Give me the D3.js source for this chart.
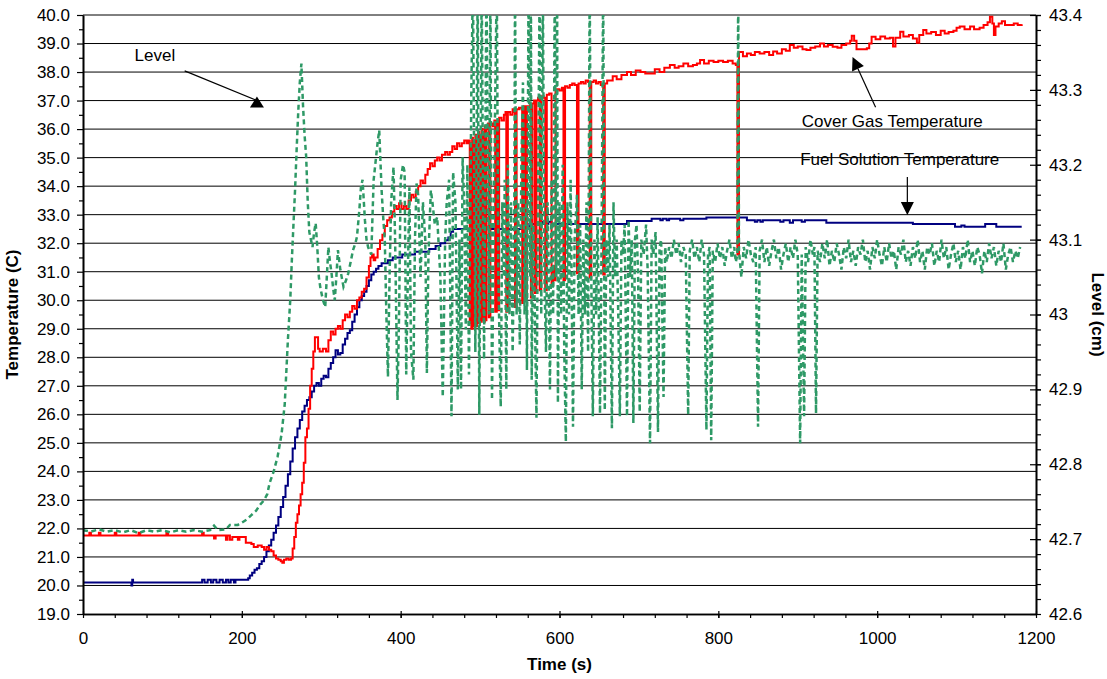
<!DOCTYPE html>
<html>
<head>
<meta charset="utf-8">
<script src="https://d3js.org/d3.v7.min.js"></script>
<style>
  html, body { margin: 0; padding: 0; background: #fff; }
  svg text { font-family: "Liberation Sans", Arial, sans-serif; fill: #000; }
</style>
</head>
<body>
<svg id="chart" width="1107" height="679"></svg>
<script>
'use strict';

// [time (s), temperature (C)]
var fuelSolutionTemp = [
  [0,20.1],[61,20.0],[62,20.2],[63,20.1],[150,20.2],[153,20.1],[157,20.2],[161,20.1],[164,20.2],[168,20.1],
  [172,20.2],[176,20.1],[180,20.2],[183,20.1],[186,20.2],[190,20.1],[192,20.2],[208,20.25],[210,20.35],[213,20.45],
  [216,20.55],[219,20.6],[222,20.75],[225,20.85],[228,21.0],[231,21.2],[234,21.4],[237,21.6],[240,21.85],[243,22.1],
  [246,22.4],[249,22.75],[252,23.1],[255,23.5],[258,23.9],[261,24.35],[264,24.8],[267,25.2],[270,25.5],[273,25.8],
  [276,26.1],[279,26.3],[282,26.5],[285,26.6],[288,26.8],[291,27.0],[294,27.1],[297,27.0],[300,27.25],[303,27.35],
  [306,27.3],[309,27.6],[312,27.8],[315,28.0],[318,28.25],[321,28.1],[324,28.15],[327,28.45],[330,28.65],[333,28.85],
  [336,28.95],[339,29.25],[342,29.5],[345,29.75],[348,30.0],[351,30.15],[354,30.3],[357,30.5],[360,30.7],[363,30.9],
  [366,31.0],[369,31.1],[372,31.2],[376,31.3],[384,31.4],[390,31.5],[402,31.6],[418,31.7],[436,31.8],[444,31.9],
  [450,32.0],[456,32.1],[460,32.2],[463,32.4],[466,32.5],[562,32.67],[575,32.75],[578,32.67],[586,32.75],[590,32.67],
  [685,32.78],[716,32.86],[727,32.8],[730,32.86],[735,32.8],[738,32.86],[752,32.8],[756,32.86],[785,32.9],[836,32.8],
  [846,32.75],[849,32.8],[853,32.75],[856,32.8],[878,32.75],[882,32.8],[890,32.72],[894,32.8],[905,32.75],[909,32.8],
  [936,32.72],[1045,32.67],[1098,32.58],[1106,32.62],[1110,32.58],[1136,32.67],[1150,32.58],[1182,32.58]
];

var coverGasTemp = [
  [0,21.75],[8,21.85],[10,21.75],[20,21.85],[22,21.75],[40,21.85],[42,21.75],[70,21.85],[72,21.75],[105,21.85],
  [107,21.75],[150,21.85],[152,21.75],[165,21.65],[167,21.75],[180,21.6],[182,21.75],[185,21.6],[188,21.7],[195,21.6],
  [197,21.7],[205,21.5],[212,21.45],[215,21.35],[220,21.4],[225,21.35],[228,21.25],[231,21.35],[234,21.25],[237,21.2],
  [240,21.05],[243,20.95],[246,20.9],[249,20.85],[251,20.8],[253,20.9],[256,20.95],[259,20.9],[262,20.95],[264,21.3],
  [266,21.7],[268,22.2],[270,22.5],[272,22.8],[274,23.2],[276,23.6],[278,24.3],[280,25.2],[282,25.5],[284,26.2],
  [286,27.0],[288,27.6],[290,28.2],[292,28.7],[294,28.7],[296,28.3],[298,28.2],[302,28.3],[306,28.2],[309,28.6],
  [312,28.9],[315,28.8],[318,29.0],[321,29.1],[324,29.0],[327,29.3],[330,29.5],[333,29.4],[336,29.6],[339,29.8],
  [342,29.7],[345,30.0],[348,30.1],[351,30.3],[354,30.4],[357,30.8],[360,31.2],[362,31.5],[364,31.6],[366,31.4],
  [368,31.5],[371,31.8],[374,32.1],[377,32.3],[380,32.6],[383,32.8],[386,32.9],[389,33.1],[392,33.3],[395,33.2],
  [398,33.4],[401,33.2],[404,33.3],[407,33.2],[410,33.5],[413,33.7],[416,33.6],[419,33.8],[422,34.0],[425,34.2],
  [428,34.1],[431,34.4],[434,34.6],[437,34.8],[440,34.7],[443,34.9],[446,35.0],[449,34.9],[452,35.1],[456,35.2],
  [459,35.1],[462,35.2],[465,35.4],[468,35.3],[471,35.5],[474,35.4],[477,35.5],[480,35.6],[483,35.5],[485,35.6],
  [487,29.2],[488,35.5],[489,29.0],[490,35.7],[491,29.1],[492,35.6],[493,29.0],[494,35.8],[495,29.1],[496,35.7],
  [497,29.2],[498,35.9],[499,29.3],[500,35.8],[501,29.25],[502,36.0],[503,29.3],[504,35.9],[505,29.25],[506,36.1],
  [507,29.3],[508,36.0],[510,36.2],[511,29.4],[513,36.2],[516,36.1],[518,36.3],[519,29.6],[521,36.3],[522,29.65],
  [524,36.4],[527,36.3],[530,36.5],[532,36.6],[533,29.6],[535,36.6],[538,36.5],[541,36.7],[543,36.6],[544,29.76],
  [546,36.7],[549,36.75],[552,36.7],[553,29.9],[555,36.8],[557,30.0],[558,30.07],[559,36.8],[561,36.75],[563,36.85],
  [564,30.1],[566,36.9],[568,37.0],[569,30.25],[571,37.0],[573,37.1],[575,30.35],[577,37.15],[580,37.1],[582,30.35],
  [584,37.2],[587,37.25],[590,30.53],[592,31.2],[593,30.7],[595,37.35],[597,37.4],[600,37.35],[603,37.45],[605,30.7],
  [607,37.5],[610,37.45],[613,37.55],[616,37.6],[619,37.55],[622,30.95],[624,37.6],[627,37.65],[630,37.6],[633,37.7],
  [636,37.65],[638,30.8],[640,37.65],[643,37.7],[646,37.6],[649,37.65],[652,37.55],[655,30.9],[657,37.6],[660,37.7],
  [667,37.85],[672,37.75],[678,37.9],[685,38.0],[690,37.9],[696,38.05],[702,38.0],[708,37.95],[714,37.95],[720,38.1],
  [726,38.0],[732,38.15],[739,38.25],[745,38.15],[750,38.2],[756,38.3],[762,38.2],[768,38.25],[773,38.3],[777,38.42],
  [782,38.3],[788,38.4],[794,38.35],[800,38.4],[806,38.35],[812,38.4],[818,38.3],[822,38.25],[824,31.6],[826,38.7],
  [831,38.55],[836,38.65],[841,38.6],[846,38.7],[852,38.65],[858,38.7],[864,38.6],[869,38.72],[874,38.65],[880,38.8],
  [885,38.75],[890,38.95],[895,38.85],[900,38.9],[906,38.8],[911,38.77],[916,38.85],[922,38.9],[928,39.0],[933,38.9],
  [938,38.95],[944,38.89],[950,38.85],[955,38.95],[961,39.0],[966,39.1],[968,39.27],[971,39.1],[974,38.8],[980,38.8],
  [987,38.83],[990,39.0],[993,39.24],[998,39.15],[1004,39.25],[1010,39.18],[1016,39.2],[1020,38.9],[1023,39.2],[1029,39.41],
  [1033,39.25],[1040,39.3],[1045,39.18],[1050,39.03],[1053,39.3],[1058,39.47],[1062,39.35],[1068,39.4],[1074,39.3],[1080,39.45],
  [1085,39.35],[1090,39.4],[1096,39.45],[1100,39.55],[1104,39.6],[1110,39.5],[1117,39.6],[1122,39.5],[1129,39.55],[1134,39.65],
  [1139,39.75],[1142,39.94],[1145,39.7],[1147,39.3],[1149,39.6],[1153,39.7],[1157,39.78],[1161,39.65],[1167,39.65],[1172,39.7],
  [1177,39.65],[1182,39.68]
];

// [time (s), level (cm)]
var levelCm = [
  [0,42.712],[10,42.71],[20,42.713],[30,42.71],[40,42.712],[50,42.709],[60,42.712],[70,42.708],[80,42.712],[90,42.71],
  [100,42.712],[110,42.709],[120,42.712],[130,42.71],[140,42.712],[150,42.71],[160,42.712],[165,42.718],[170,42.712],[180,42.713],
  [185,42.719],[195,42.719],[200,42.722],[206,42.726],[212,42.732],[218,42.738],[223,42.746],[228,42.752],[232,42.76],[235,42.775],
  [240,42.79],[245,42.81],[250,42.84],[254,42.88],[258,42.966],[261,43.02],[263,43.073],[265,43.12],[267,43.166],[269,43.22],
  [271,43.27],[273,43.31],[275,43.335],[277,43.28],[279,43.24],[281,43.211],[283,43.15],[285,43.11],[287,43.1],[289,43.09],
  [291,43.11],[293,43.122],[295,43.09],[297,43.05],[299,43.035],[302,43.02],[305,43.01],[307,43.05],[309,43.09],[311,43.07],
  [313,43.055],[315,43.035],[317,43.019],[319,43.05],[321,43.086],[324,43.06],[328,43.037],[331,43.045],[334,43.055],[337,43.07],
  [340,43.086],[343,43.095],[345,43.104],[348,43.14],[350,43.17],[352,43.18],[355,43.126],[357,43.1],[359,43.09],[363,43.08],
  [366,43.18],[369,43.21],[371,43.23],[373,43.246],[376,43.166],[378,43.13],[380,43.1],[382,43.0],[384,42.917],[386,43.05],
  [388,43.15],[391,43.197],[393,43.1],[396,42.886],[398,43.0],[400,43.18],[403,43.2],[405,43.19],[407,42.92],[409,43.05],
  [411,43.17],[413,42.95],[416,42.913],[418,43.1],[420,43.175],[422,43.16],[425,43.05],[428,43.15],[431,43.1],[433,42.922],
  [435,43.08],[438,43.166],[440,43.15],[443,43.12],[446,43.13],[450,43.05],[453,42.89],[456,43.1],[458,43.15],[461,43.18],
  [464,42.864],[466,43.19],[469,43.15],[472,42.9],[474,43.1],[476,42.9],[478,43.21],[480,43.15],[482,42.98],[484,43.2],
  [486,42.92],[489,43.3],[491,43.45],[494,42.95],[497,43.45],[499,42.866],[502,43.45],[505,42.94],[508,43.45],[511,43.0],
  [513,43.45],[515,42.886],[518,43.2],[521,43.45],[523,43.05],[526,42.877],[528,43.15],[530,43.05],[531,43.18],[533,42.9],
  [535,43.2],[537,43.0],[539,43.15],[541,42.95],[543,43.1],[544,43.45],[546,43.0],[548,43.15],[550,42.96],[552,43.2],
  [554,43.31],[556,43.0],[558,43.15],[559,42.926],[561,43.45],[563,43.05],[564,43.45],[565,42.913],[567,43.12],[569,43.0],
  [571,42.862],[573,43.15],[575,43.45],[577,43.0],[579,43.45],[581,43.05],[583,42.95],[585,43.15],[587,43.0],[588,42.9],
  [590,43.18],[592,43.0],[594,43.45],[596,43.05],[597,43.45],[598,42.882],[600,43.15],[602,43.0],[604,43.2],[606,42.95],
  [608,42.83],[610,43.15],[612,43.0],[614,43.18],[617,42.85],[619,43.1],[622,43.16],[624,43.0],[626,43.12],[628,42.9],
  [630,43.1],[632,43.0],[634,43.15],[636,42.95],[638,43.45],[640,43.05],[642,42.864],[644,43.1],[646,43.0],[648,43.13],
  [651,42.868],[653,43.1],[655,43.45],[657,42.872],[659,43.1],[661,43.05],[663,43.12],[666,42.848],[668,43.15],[670,43.05],
  [672,43.1],[674,43.0],[676,42.864],[678,43.1],[680,43.08],[682,43.12],[685,42.864],[687,43.126],[689,43.05],[691,43.1],
  [693,42.855],[695,43.1],[697,43.12],[699,43.05],[701,42.87],[703,43.1],[706,43.08],[709,43.12],[711,43.06],[714,42.828],
  [716,43.1],[718,43.08],[721,43.11],[724,42.843],[726,43.09],[728,43.1],[731,42.89],[733,43.09],[735,43.07],[738,43.09],
  [741,43.075],[744,43.1],[747,43.08],[750,43.095],[753,43.07],[756,43.09],[759,43.08],[762,42.866],[764,43.085],[767,43.1],
  [770,43.075],[773,43.09],[776,43.07],[779,43.1],[782,43.08],[785,42.846],[787,43.08],[789,43.09],[791,42.832],[793,43.085],
  [796,43.07],[799,43.095],[802,43.075],[805,43.09],[808,43.065],[811,43.085],[814,43.1],[817,43.075],[820,43.09],[822,43.07],
  [824,43.08],[825,43.45],[826,43.085],[829,43.05],[832,43.09],[835,43.075],[838,43.1],[841,43.08],[844,43.07],[847,43.09],
  [850,42.85],[852,43.085],[855,43.1],[858,43.07],[861,43.09],[864,43.065],[867,43.085],[870,43.1],[873,43.075],[876,43.09],
  [879,43.06],[882,43.08],[885,43.095],[888,43.07],[891,43.09],[894,43.075],[897,43.1],[900,43.08],[903,42.828],[905,43.08],
  [908,42.864],[910,43.09],[913,43.07],[916,43.1],[919,43.08],[921,43.09],[923,42.868],[925,43.085],[928,43.07],[931,43.095],
  [934,43.075],[937,43.1],[940,43.065],[943,43.085],[946,43.07],[949,43.095],[952,43.08],[955,43.06],[958,43.09],[961,43.075],
  [964,43.1],[967,43.07],[970,43.085],[973,43.065],[976,43.09],[979,43.08],[982,43.1],[985,43.07],[988,43.085],[991,43.06],
  [994,43.09],[997,43.075],[1000,43.1],[1003,43.08],[1006,43.065],[1009,43.09],[1012,43.07],[1015,43.095],[1018,43.075],[1021,43.085],
  [1024,43.06],[1027,43.09],[1030,43.08],[1033,43.1],[1036,43.07],[1039,43.085],[1042,43.065],[1045,43.09],[1048,43.075],[1051,43.1],
  [1054,43.07],[1057,43.085],[1060,43.06],[1063,43.09],[1066,43.08],[1069,43.095],[1072,43.065],[1075,43.085],[1078,43.07],[1081,43.1],
  [1084,43.075],[1087,43.09],[1090,43.06],[1093,43.08],[1096,43.095],[1099,43.07],[1102,43.085],[1105,43.06],[1108,43.09],[1111,43.075],
  [1114,43.1],[1117,43.07],[1120,43.085],[1123,43.065],[1126,43.09],[1129,43.08],[1132,43.055],[1135,43.085],[1138,43.07],[1141,43.095],
  [1144,43.075],[1147,43.09],[1150,43.065],[1153,43.085],[1156,43.07],[1159,43.095],[1162,43.06],[1165,43.08],[1168,43.09],[1171,43.07],
  [1174,43.085],[1177,43.075],[1180,43.09]
];

var timeTicks = [0, 200, 400, 600, 800, 1000, 1200];
var tempTicks = [19, 20, 21, 22, 23, 24, 25, 26, 27, 28, 29, 30, 31, 32, 33, 34, 35, 36, 37, 38, 39, 40];
var levelTicks = [42.6, 42.7, 42.8, 42.9, 43.0, 43.1, 43.2, 43.3, 43.4];
var levelLabels = ["42.6", "42.7", "42.8", "42.9", "43", "43.1", "43.2", "43.3", "43.4"];

// annotation text + arrow, in (time, temperature) units
var notes = [
  {text: "Level", x: 65, y: 38.39, from: [128, 38.04], to: [219, 37.0], head: "up"},
  {text: "Cover Gas Temperature", x: 905, y: 36.08, from: [998, 36.77], to: [969, 38.53], head: "line"},
  {text: "Fuel Solution Temperature", x: 903, y: 34.74, from: [1038, 34.32], to: [1038, 32.99], head: "line"}
];

var margin = {top: 15, right: 71, bottom: 65, left: 83},
    width = 1107 - margin.left - margin.right,
    height = 679 - margin.top - margin.bottom;

var svg = d3.select("#chart");
var g = svg.append("g").attr("transform", "translate(" + margin.left + "," + margin.top + ")");

var x = d3.scaleLinear().domain([0, 1200]).range([0, width]);
var yT = d3.scaleLinear().domain([19, 40]).range([height, 0]);
var yL = d3.scaleLinear().domain([42.6, 43.4]).range([height, 0]);

svg.append("defs").append("clipPath").attr("id", "plot-clip")
  .append("rect").attr("width", width).attr("height", height);

// horizontal grid
g.append("g").selectAll("line")
    .data(tempTicks.slice(1))
  .enter().append("line")
    .attr("x1", 0).attr("x2", width)
    .attr("y1", function(d) { return yT(d); })
    .attr("y2", function(d) { return yT(d); })
    .attr("stroke", "#000")
    .attr("stroke-width", 1);

// series
var series = g.append("g").attr("clip-path", "url(#plot-clip)");

var tempLine = d3.line()
  .curve(d3.curveStepAfter)
  .x(function(d) { return x(d[0]); })
  .y(function(d) { return yT(d[1]); });

var levelLine = d3.line()
  .x(function(d) { return x(d[0]); })
  .y(function(d) { return yL(d[1]); });

series.append("path")
  .attr("d", tempLine(fuelSolutionTemp))
  .attr("fill", "none")
  .attr("stroke", "#000080")
  .attr("stroke-width", 2);

series.append("path")
  .attr("d", tempLine(coverGasTemp))
  .attr("fill", "none")
  .attr("stroke", "#ff0000")
  .attr("stroke-width", 2);

series.append("path")
  .attr("d", levelLine(levelCm))
  .attr("fill", "none")
  .attr("stroke", "#2e9966")
  .attr("stroke-width", 2.5)
  .attr("stroke-dasharray", "5,3.5");

// axes
function styleAxis(sel) {
  sel.select(".domain").attr("stroke", "#000").attr("stroke-width", 1.6);
  sel.selectAll(".tick line").attr("stroke", "#000").attr("stroke-width", 1.2);
  sel.selectAll("text").attr("font-size", 17).attr("font-family", null).attr("fill", "#000");
}

// left minor ticks
g.append("g")
    .call(d3.axisLeft(yT).tickValues(d3.range(19.5, 40, 1)).tickSize(4).tickSizeOuter(0).tickFormat(""))
    .call(styleAxis);
g.append("g")
    .call(d3.axisLeft(yT).tickValues(tempTicks).tickSize(6).tickSizeOuter(0).tickPadding(7)
      .tickFormat(d3.format(".1f")))
    .call(styleAxis);

// right axis
var right = g.append("g").attr("transform", "translate(" + width + ",0)");
right.append("g")
    .call(d3.axisRight(yL).tickValues(d3.range(42.62, 43.4, 0.02)).tickSize(5).tickSizeOuter(0).tickFormat(""))
    .call(styleAxis);
right.append("g")
    .call(d3.axisRight(yL).tickValues(levelTicks).tickSize(5).tickSizeOuter(0).tickPadding(8)
      .tickFormat(function(d, i) { return levelLabels[i]; }))
    .call(styleAxis)
    .selectAll(".tick line").attr("x1", -6);

// bottom axis
var bottom = g.append("g").attr("transform", "translate(0," + height + ")");
bottom.append("g")
    .call(d3.axisBottom(x).tickValues(d3.range(40, 1200, 40)).tickSize(4).tickSizeOuter(0).tickFormat(""))
    .call(styleAxis);
bottom.append("g")
    .call(d3.axisBottom(x).tickValues(timeTicks).tickSize(4).tickSizeOuter(0).tickPadding(14)
      .tickFormat(d3.format("d")))
    .call(styleAxis)
    .selectAll(".tick line").attr("y1", -3);

// axis titles
g.append("text")
  .attr("transform", "translate(" + (-65) + "," + (height / 2) + ") rotate(-90)")
  .attr("text-anchor", "middle")
  .attr("font-size", 17)
  .attr("font-weight", "bold")
  .text("Temperature (C)");

g.append("text")
  .attr("transform", "translate(" + (width + 56) + "," + (height / 2) + ") rotate(90)")
  .attr("text-anchor", "middle")
  .attr("font-size", 17)
  .attr("font-weight", "bold")
  .text("Level (cm)");

g.append("text")
  .attr("x", width / 2)
  .attr("y", height + 56)
  .attr("text-anchor", "middle")
  .attr("font-size", 17)
  .attr("font-weight", "bold")
  .text("Time (s)");

// annotations
notes.forEach(function(n) {
  g.append("text")
    .attr("x", x(n.x)).attr("y", yT(n.y))
    .attr("font-size", 17)
    .text(n.text);

  var x1 = x(n.from[0]), y1 = yT(n.from[1]),
      x2 = x(n.to[0]), y2 = yT(n.to[1]);
  var pts;
  if (n.head == "up") {
    // this head sits upright at the end of the line
    pts = [[x2, y2 - 4], [x2 - 7, y2 + 7], [x2 + 7, y2 + 7]];
    g.append("line").attr("x1", x1).attr("y1", y1).attr("x2", x2).attr("y2", y2)
      .attr("stroke", "#000").attr("stroke-width", 1.2);
  } else {
    var dx = x2 - x1, dy = y2 - y1, len = Math.sqrt(dx * dx + dy * dy),
        ux = dx / len, uy = dy / len,
        bx = x2 - ux * 13, by = y2 - uy * 13;
    pts = [[x2, y2], [bx - uy * 6.5, by + ux * 6.5], [bx + uy * 6.5, by - ux * 6.5]];
    g.append("line").attr("x1", x1).attr("y1", y1).attr("x2", bx).attr("y2", by)
      .attr("stroke", "#000").attr("stroke-width", 1.2);
  }
  g.append("polygon")
    .attr("points", pts.map(function(p) { return p.join(","); }).join(" "))
    .attr("fill", "#000");
});
</script>
</body>
</html>
